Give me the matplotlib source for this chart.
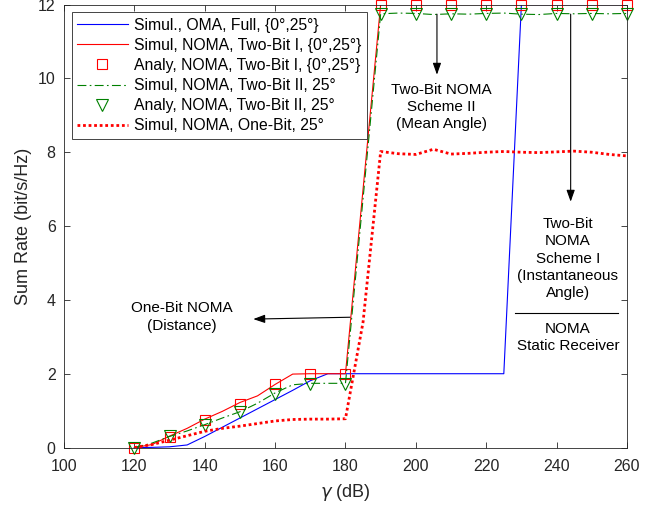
import matplotlib
matplotlib.use("Agg")
import matplotlib.pyplot as plt

plt.rcParams['font.family'] = ['Liberation Sans', 'DejaVu Sans']

# ---------------- data ----------------
x_oma = [120, 125, 130, 135, 140, 145, 150, 155, 160, 165, 170, 175, 180, 185,
         190, 195, 200, 205, 210, 215, 220, 225, 230, 235, 240, 245, 250, 255, 260]
y_oma = [0.0, 0.005, 0.02, 0.07, 0.30, 0.55, 0.80, 1.05, 1.30, 1.55, 1.81, 2.0, 2.0, 2.0,
         2.0, 2.0, 2.0, 2.0, 2.0, 2.0, 2.0, 2.0, 12.0, 12.0, 12.0, 12.0, 12.0, 12.0, 12.0]

x_sim1 = [120, 125, 130, 135, 140, 145, 150, 155, 160, 165, 170, 175, 180,
          190, 195, 200, 205, 210, 215, 220, 225, 230, 235, 240, 245, 250, 255, 260]
y_sim1 = [0.0, 0.08, 0.31, 0.52, 0.77, 0.98, 1.22, 1.40, 1.71, 1.99, 2.0, 2.0, 2.0,
          12.0, 12.0, 12.0, 12.0, 12.0, 12.0, 12.0, 12.0, 12.0, 12.0, 12.0, 12.0, 12.0, 12.0, 12.0]

x_ana = [120, 130, 140, 150, 160, 170, 180, 190, 200, 210, 220, 230, 240, 250, 260]
y_ana1 = [0.0, 0.28, 0.74, 1.17, 1.72, 2.0, 2.0, 12.0, 12.0, 12.0, 12.0, 12.0, 12.0, 12.0, 12.0]
y_ana2 = [0.0, 0.30, 0.60, 0.97, 1.45, 1.73, 1.73, 11.74, 11.74, 11.74, 11.74, 11.74, 11.74, 11.74, 11.74]

x_sim2 = [120, 125, 130, 135, 140, 145, 150, 155, 160, 165, 170, 175, 180,
          190, 195, 200, 205, 210, 215, 220, 225, 230, 235, 240, 245, 250, 255, 260]
y_sim2 = [0.0, 0.12, 0.30, 0.45, 0.62, 0.80, 0.97, 1.20, 1.48, 1.70, 1.74, 1.74, 1.74,
          11.75, 11.77, 11.76, 11.73, 11.75, 11.74, 11.76, 11.77, 11.74, 11.73, 11.76, 11.75, 11.76, 11.75, 11.76]

x_one = [120, 125, 130, 135, 140, 145, 150, 155, 160, 165, 170, 175, 180, 185,
         190, 195, 200, 205, 210, 215, 220, 225, 230, 235, 240, 245, 250, 255, 260]
y_one = [0.0, 0.08, 0.20, 0.32, 0.44, 0.52, 0.58, 0.65, 0.72, 0.76, 0.77, 0.77, 0.78, 3.4,
         8.02, 7.96, 7.94, 8.08, 7.95, 7.97, 8.0, 8.02, 8.0, 7.99, 8.01, 8.03, 8.0, 7.94, 7.90]

labels = ["Simul., OMA, Full, {0°,25°}",
          "Simul, NOMA, Two-Bit I, {0°,25°}",
          "Analy, NOMA, Two-Bit I, {0°,25°}",
          "Simul, NOMA, Two-Bit II, 25°",
          "Analy, NOMA, Two-Bit II, 25°",
          "Simul, NOMA, One-Bit, 25°"]

xticks = [100, 120, 140, 160, 180, 200, 220, 240, 260]
yticks = [0, 2, 4, 6, 8, 10, 12]

# ---------------- figure ----------------
fig = plt.figure(figsize=(6.65, 5.08), dpi=100)
ax = fig.add_axes([0.0962, 0.119, 0.8466, 0.872])

ax.plot(x_oma, y_oma, color='#0000ff', lw=0.8, label=labels[0])
ax.plot(x_sim1, y_sim1, color='#ff0000', lw=0.8, label=labels[1])
ax.plot(x_ana, y_ana1, ls='none', marker='s', ms=6.5, mfc='none', mec='#ff0000',
        mew=0.8, label=labels[2], clip_on=False)
ax.plot(x_sim2, y_sim2, color='#008000', lw=0.8, ls=(0, (8, 3, 1.5, 3)), label=labels[3])
ax.plot(x_ana, y_ana2, ls='none', marker='v', ms=8, mfc='none', mec='#008000',
        mew=0.8, label=labels[4], clip_on=False)
ax.plot(x_one, y_one, color='#ff0000', lw=2.0, ls=(0, (1, 1)), label=labels[5])

ax.set_xlim(100, 260)
ax.set_ylim(0, 12)
ax.set_xticks(xticks)
ax.set_yticks(yticks)
ax.tick_params(direction='in', top=True, right=True, labelsize=11.5, length=4,
               width=0.6, colors='#262626')
ax.tick_params(axis='x', pad=8)
ax.tick_params(axis='y', pad=6)
for s in ax.spines.values():
    s.set_linewidth(0.6)
    s.set_color('#262626')

ax.set_xlabel(r"$\gamma$ (dB)", fontsize=13, color='#262626', labelpad=6)
ax.set_ylabel("Sum Rate (bit/s/Hz)", fontsize=13, color='#262626', labelpad=4)

leg = ax.legend(loc='upper left', bbox_to_anchor=(0.014, 0.983), borderaxespad=0,
                fontsize=11.3, handlelength=3.2, handletextpad=0.4, labelspacing=0.33,
                borderpad=0.35, fancybox=False, framealpha=1, edgecolor='#262626')
leg.get_frame().set_linewidth(0.6)

arrow = dict(arrowstyle='-|>,head_length=0.7,head_width=0.25', color='black', lw=0.8,
             shrinkA=0, shrinkB=0)

# Scheme II annotation
ax.annotate('', xy=(206.0, 10.1), xytext=(206.0, 11.74), arrowprops=arrow)
ax.text(207.3, 9.23, "Two-Bit NOMA\nScheme II\n(Mean Angle)", ha='center', va='center',
        fontsize=11, linespacing=1.3)

# Scheme I annotation
ax.annotate('', xy=(244.0, 6.66), xytext=(244.0, 11.74), arrowprops=arrow)
ax.text(243.2, 5.12, "Two-Bit\nNOMA\nScheme I\n(Instantaneous\nAngle)", ha='center',
        va='center', fontsize=11, linespacing=1.3)
ax.plot([228.1, 257.4], [3.64, 3.64], color='black', lw=0.8)
ax.text(243.2, 2.98, "NOMA\nStatic Receiver", ha='center', va='center', fontsize=11,
        linespacing=1.3)

# One-bit annotation
ax.annotate('', xy=(153.8, 3.48), xytext=(181.3, 3.53), arrowprops=arrow)
ax.text(133.4, 3.54, "One-Bit NOMA\n(Distance)", ha='center', va='center', fontsize=11,
        linespacing=1.3)

fig.savefig("out.png", dpi=100)
